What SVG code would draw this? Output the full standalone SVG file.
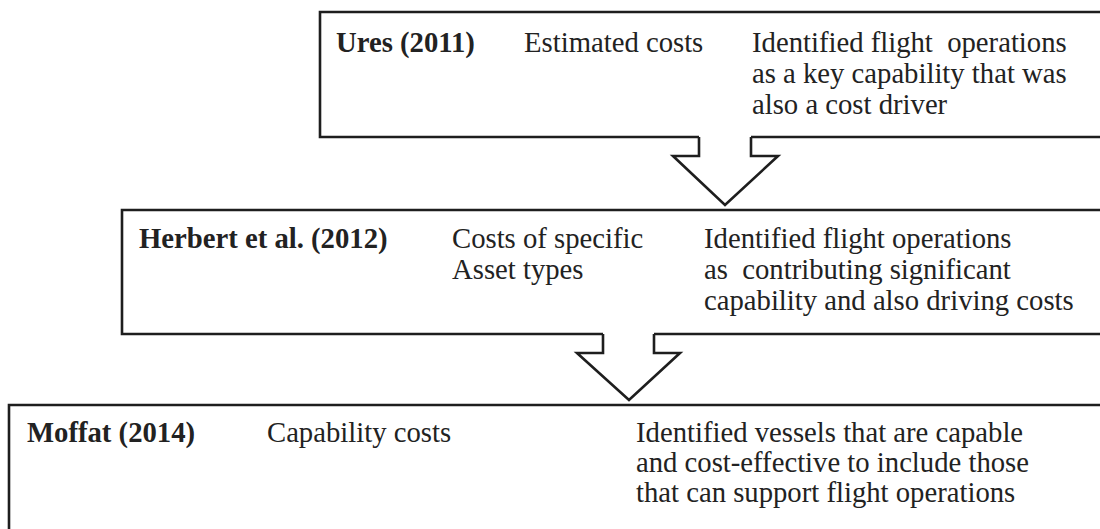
<svg xmlns="http://www.w3.org/2000/svg" width="1100" height="529" viewBox="0 0 1100 529">
<style>
.box{fill:none;stroke:#1e1e1e;stroke-width:2.6;stroke-linejoin:miter}
.arr{fill:#fff;stroke:#1e1e1e;stroke-width:2.6;stroke-linejoin:miter}
.t{font-size:28.7px;fill:#222}
.b{font-weight:bold}
</style>
<rect width="1100" height="529" fill="#fff"/>
<g font-family="Liberation Serif, Times New Roman, serif">
<g id="ures">
<path class="box" d="M1110,12 H320 V137 H699 M751,137 H1110"/>
<text class="t b" x="336" y="52">Ures (2011)</text>
<text class="t" x="524" y="52">Estimated costs</text>
<text class="t" x="752" y="52" xml:space="preserve">Identified flight  operations</text>
<text class="t" x="752" y="83">as a key capability that was</text>
<text class="t" x="752" y="114">also a cost driver</text>
</g>
<g id="herbert">
<path class="box" d="M1110,210 H122 V334 H603 M654,334 H1110"/>
<text class="t b" x="139" y="248">Herbert et al. (2012)</text>
<text class="t" x="452" y="248">Costs of specific</text>
<text class="t" x="452" y="279">Asset types</text>
<text class="t" x="704" y="248">Identified flight operations</text>
<text class="t" x="704" y="279" xml:space="preserve">as  contributing significant</text>
<text class="t" x="704" y="310">capability and also driving costs</text>
</g>
<g id="moffat">
<path class="box" d="M1110,405 H9 V540"/>
<text class="t b" x="27" y="442">Moffat (2014)</text>
<text class="t" x="267" y="442">Capability costs</text>
<text class="t" x="636" y="442">Identified vessels that are capable</text>
<text class="t" x="636" y="472">and cost-effective to include those</text>
<text class="t" x="636" y="502">that can support flight operations</text>
</g>
</g>
<g id="connectors">
<path class="arr" d="M699,137 V156 H673 L725,205 L778,156 H751 V137"/>
<path class="arr" d="M603,334 V353 H577 L629,400 L680,353 H654 V334"/>
</g>
</svg>
